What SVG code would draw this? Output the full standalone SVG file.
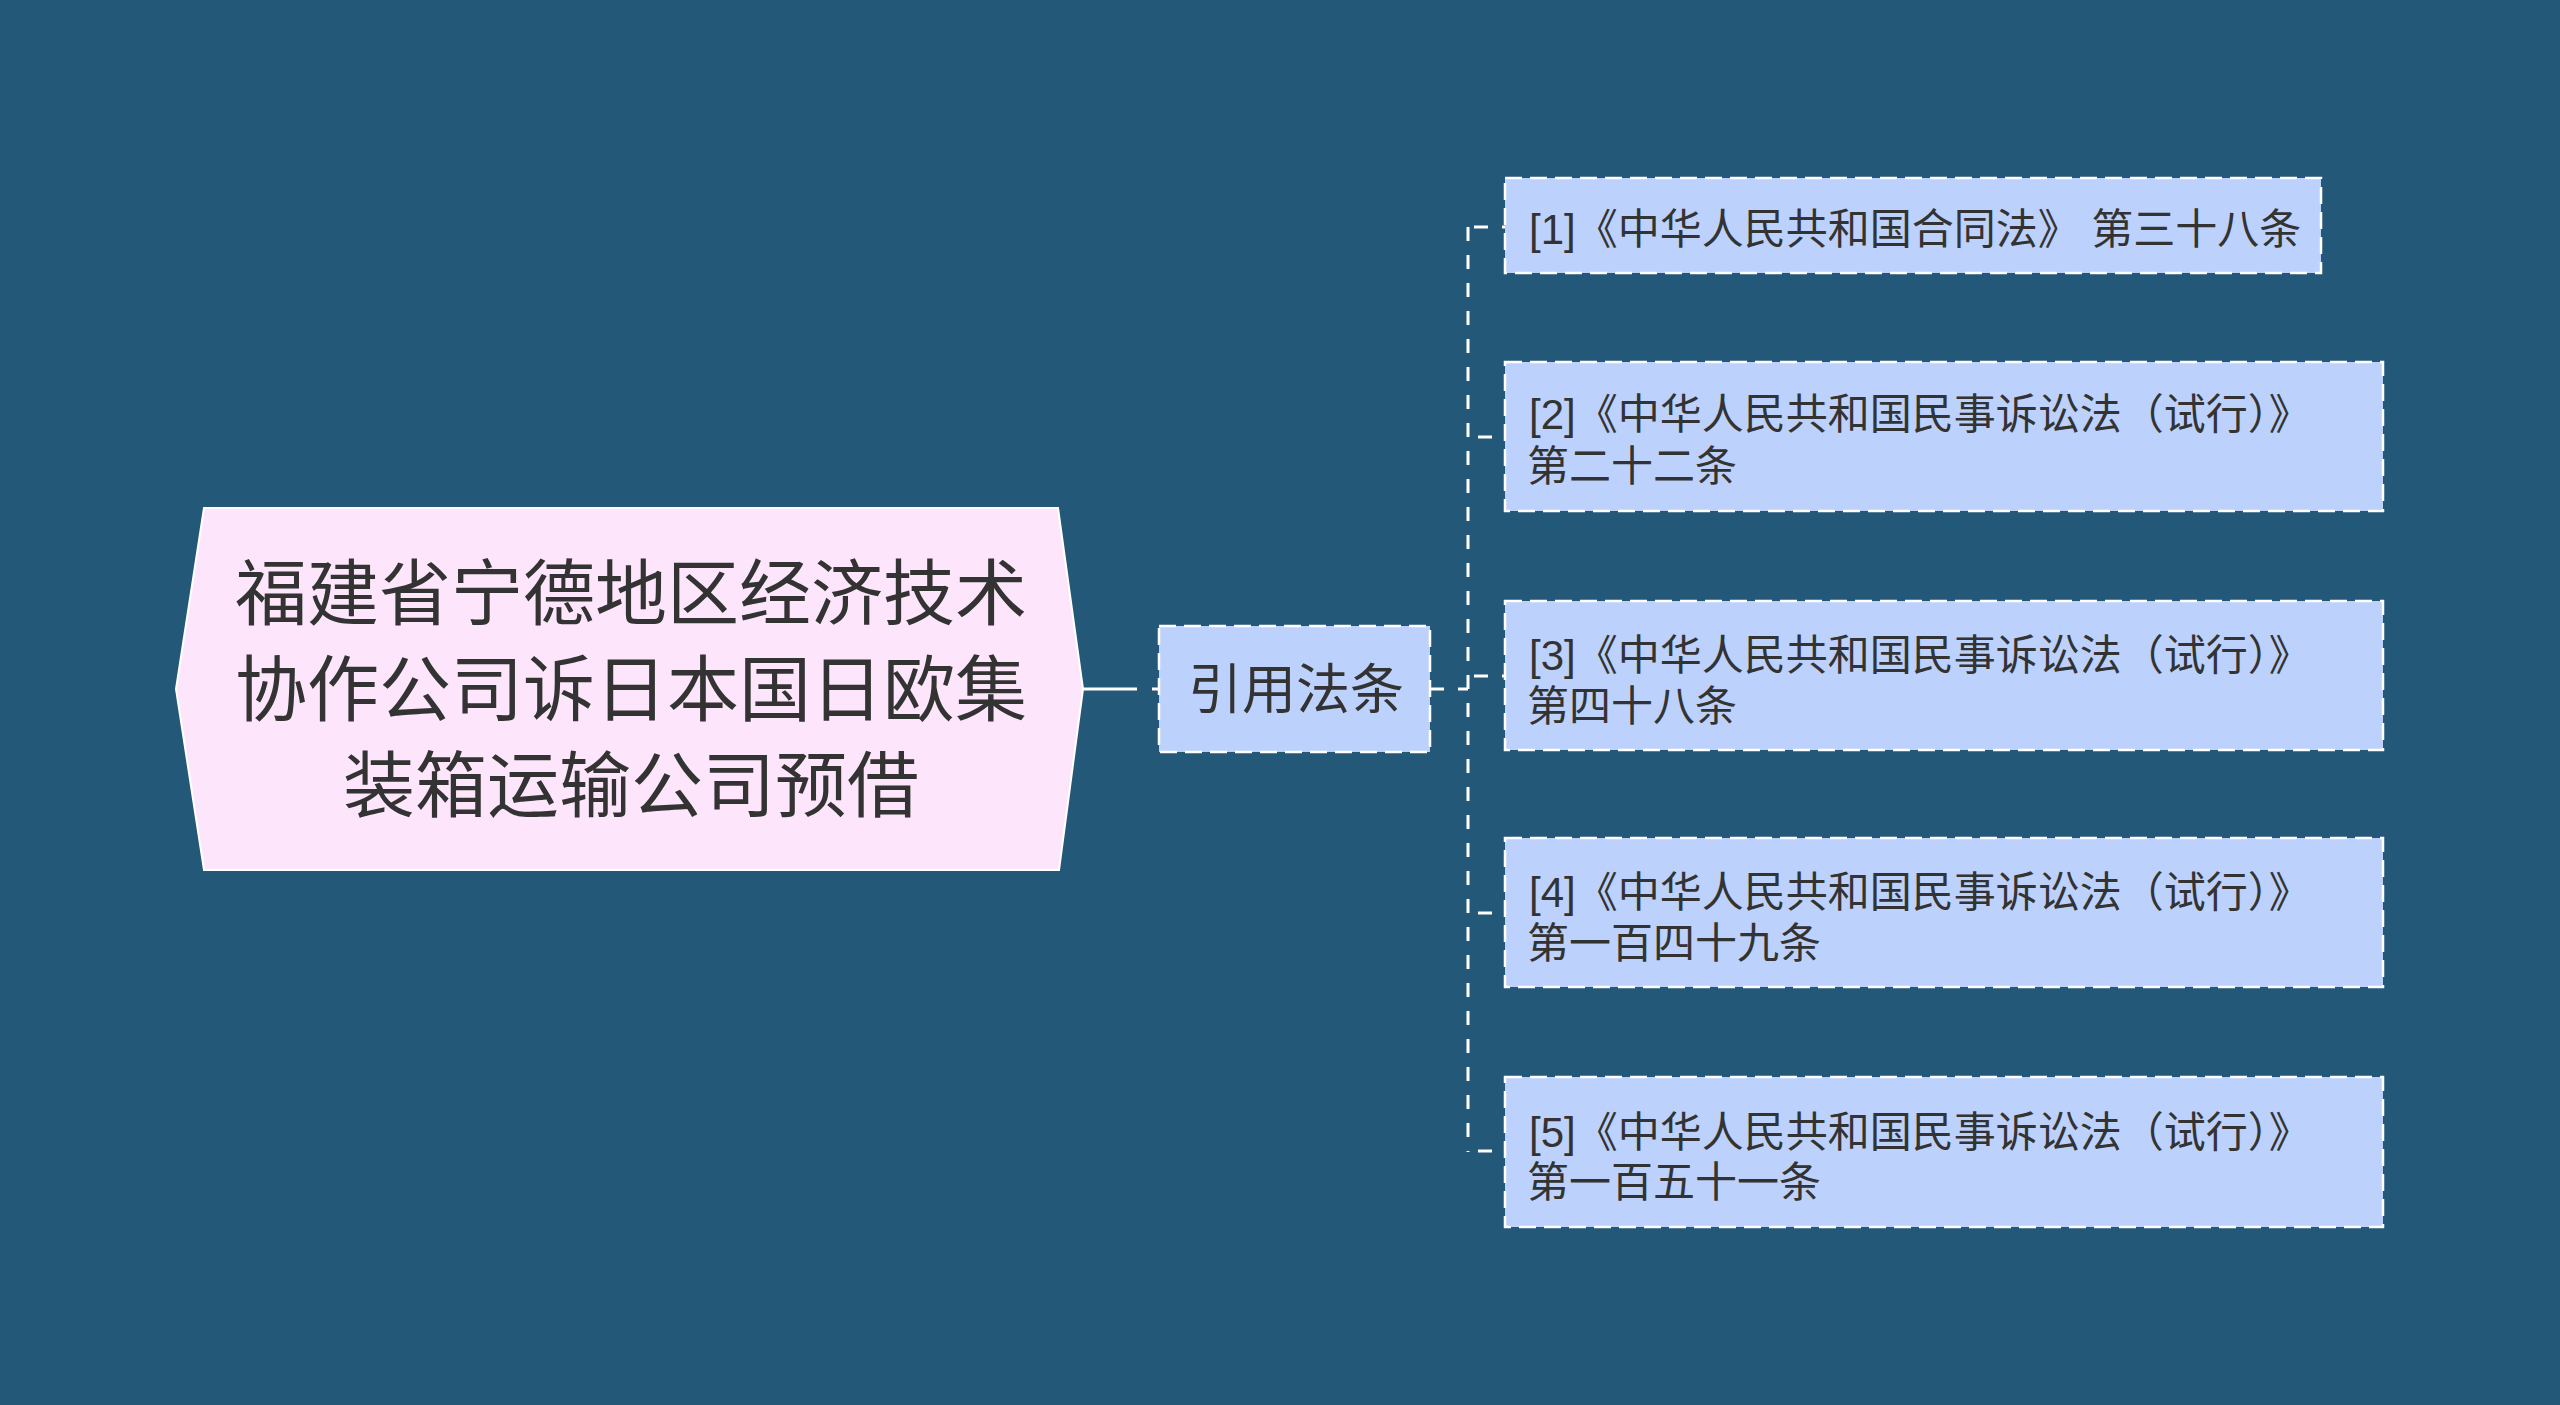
<svg xmlns="http://www.w3.org/2000/svg" width="2560" height="1405" viewBox="0 0 2560 1405">
<style>
.t{font-family:"Noto Sans CJK SC","Noto Sans",sans-serif;fill:#333333}
.tc{font-family:"Liberation Sans","Noto Sans CJK SC",sans-serif;fill:#333333;font-size:42px}
.root{fill:#fde6fb;stroke:#ffffff;stroke-width:2}
.box{fill:#bcd1fb;stroke:#ffffff;stroke-width:2.5;stroke-dasharray:17 8}
.ln{fill:none;stroke:#ffffff;stroke-width:3}
.dl{fill:none;stroke:#ffffff;stroke-width:3;stroke-dasharray:14 14}
</style>
<rect width="2560" height="1405" fill="#245878"/>
<g id="connectors">
<path class="ln" d="M1082 689 H1137"/>
<path class="dl" d="M1152 689 H1159"/>
<path class="dl" d="M1430 689 H1468"/>
<path class="dl" d="M1468 227 V1152"/>
<path class="dl" d="M1474 227 H1505"/>
<path class="dl" d="M1478 437 H1505"/>
<path class="dl" d="M1474 676 H1505"/>
<path class="dl" d="M1478 913 H1505"/>
<path class="dl" d="M1478 1151 H1505"/>
</g>
<g id="root">
<polygon class="root" points="204,508 1058,508 1083,689 1059,870 204,870 176,689"/>
<text class="t" font-size="72" text-anchor="middle" x="631" y="619"><tspan x="631">福建省宁德地区经济技术</tspan><tspan x="631" dy="96">协作公司诉日本国日欧集</tspan><tspan x="631" dy="96">装箱运输公司预借</tspan></text>
</g>
<g id="yinyong">
<rect class="box" x="1159" y="626" width="271" height="126"/>
<text class="t" font-size="54" text-anchor="middle" x="1296" y="709">引用法条</text>
</g>
<g id="law1">
<rect class="box" x="1505" y="178" width="816" height="95"/>
<text class="tc" x="1529" y="244">[1]《中华人民共和国合同法》 第三十八条</text>
</g>
<g id="law2">
<rect class="box" x="1505" y="362" width="878" height="149"/>
<text class="tc" x="1529" y="429"><tspan x="1529">[2]《中华人民共和国民事诉讼法（试行）》</tspan><tspan x="1527" dy="52">第二十二条</tspan></text>
</g>
<g id="law3">
<rect class="box" x="1505" y="601" width="878" height="149"/>
<text class="tc" x="1529" y="670"><tspan x="1529">[3]《中华人民共和国民事诉讼法（试行）》</tspan><tspan x="1527" dy="51">第四十八条</tspan></text>
</g>
<g id="law4">
<rect class="box" x="1505" y="838" width="878" height="149"/>
<text class="tc" x="1529" y="907"><tspan x="1529">[4]《中华人民共和国民事诉讼法（试行）》</tspan><tspan x="1527" dy="51">第一百四十九条</tspan></text>
</g>
<g id="law5">
<rect class="box" x="1505" y="1077" width="878" height="150"/>
<text class="tc" x="1529" y="1147"><tspan x="1529">[5]《中华人民共和国民事诉讼法（试行）》</tspan><tspan x="1527" dy="50">第一百五十一条</tspan></text>
</g>
</svg>
